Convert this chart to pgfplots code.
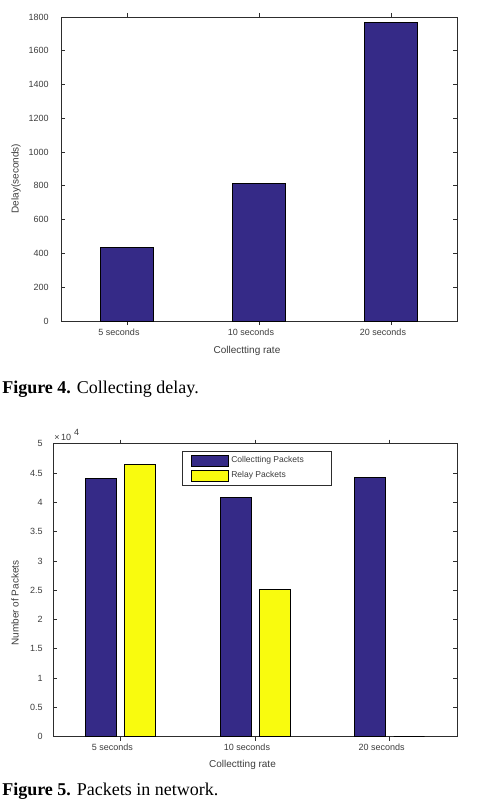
\documentclass[border=0pt]{standalone}
\usepackage{fontspec}
\setmainfont{Liberation Sans}
\newfontfamily\capfont{Liberation Serif}
\usepackage{pgfplots}
\pgfplotsset{compat=1.18}
\newdimen\pxu \pxu=0.75pt
\definecolor{pblue}{RGB}{53,42,135}
\definecolor{pyellow}{RGB}{249,251,14}
\definecolor{axc}{RGB}{45,45,45}
\definecolor{txc}{RGB}{60,60,60}
\pgfplotsset{
 mstyle/.style={
  scale only axis,
  axis line style={axc, line width=1\pxu},
  every tick/.style={axc, line width=0.8\pxu},
  major tick length=4\pxu,
  tick align=inside, xtick pos=both, ytick pos=both,
  xmin=-0.5, xmax=2.5, xtick={0,1,2},
  xticklabels={5 seconds,10 seconds,20 seconds},
  /pgf/number format/assume math mode=true,
  /pgf/number format/1000 sep={},
  ticklabel style={font=\fontsize{6.75pt}{8pt}\selectfont, text=txc},
  xticklabel style={anchor=base, inner sep=0pt, xshift=-8\pxu},
  ybar,
 },
 bleg/.style={legend image code/.code={\draw[##1] (0pt,-5.5\pxu) rectangle (37\pxu,5.5\pxu);}},
}
\begin{document}
\begin{tikzpicture}
\path[use as bounding box] (0,0) rectangle (483\pxu,-799\pxu);
% ---------- Figure 4 ----------
\begin{axis}[mstyle, at={(61\pxu,-321\pxu)}, anchor=south west,
  width=396\pxu, height=304\pxu, ymin=0, ymax=1800,
  ytick={0,200,400,600,800,1000,1200,1400,1600,1800},
  yticklabel style={inner sep=0pt, xshift=-12\pxu},
  xticklabel style={yshift=-10\pxu}]
\addplot[fill=pblue, draw=black, line width=0.8\pxu, bar width=53\pxu, bar shift=0pt]
  coordinates {(0,438) (1,817) (2,1770)};
\end{axis}
\node[font=\fontsize{7.5pt}{9pt}\selectfont, text=txc] at (247\pxu,-350.7\pxu) {Collectting rate};
\node[font=\fontsize{7.5pt}{9pt}\selectfont, text=txc, rotate=90] at (16\pxu,-178.5\pxu) {Delay(seconds)};
\node[anchor=base west, inner sep=0pt, font=\capfont\fontsize{13.5pt}{16pt}\selectfont] at (2\pxu,-393\pxu) {\textbf{Figure 4.} Collecting delay.};
% ---------- Figure 5 ----------
\begin{axis}[mstyle, at={(53\pxu,-736.7\pxu)}, anchor=south west,
  width=404\pxu, height=293\pxu, ymin=0, ymax=5,
  ytick={0,0.5,1,1.5,2,2.5,3,3.5,4,4.5,5},
  yticklabel style={inner sep=0pt, xshift=-10\pxu},
  xticklabel style={yshift=-9.5\pxu},
  legend cell align=left,
  legend style={at={(0.3193,0.976)}, anchor=north west, draw=axc, line width=1\pxu, fill=white,
    font=\fontsize{6.4pt}{7.5pt}\selectfont, text=txc,
    inner xsep=8\pxu, inner ysep=3.5\pxu, row sep=3.3\pxu, column sep=3\pxu,
    nodes={inner sep=0pt}}]
\addplot[fill=pblue, draw=black, line width=0.8\pxu, bar width=31\pxu, bar shift=-19.5\pxu, bleg]
  coordinates {(0,4.40) (1,4.085) (2,4.43)};
\addplot[fill=pyellow, draw=black, line width=0.8\pxu, bar width=31\pxu, bar shift=19.5\pxu, bleg]
  coordinates {(0,4.65) (1,2.515) (2,0)};
\legend{\makebox[92\pxu][l]{Collectting Packets},\makebox[92\pxu][l]{Relay Packets}}
\end{axis}
\node[anchor=base west, inner sep=0pt, font=\fontsize{6.75pt}{8pt}\selectfont, text=txc] at (54\pxu,-440\pxu) {×\,10\,\,\raisebox{5\pxu}{4}};
\node[font=\fontsize{7.5pt}{9pt}\selectfont, text=txc] at (242.5\pxu,-765\pxu) {Collectting rate};
\node[font=\fontsize{7.5pt}{9pt}\selectfont, text=txc, rotate=90] at (15\pxu,-603\pxu) {Number of Packets};
\node[anchor=base west, inner sep=0pt, font=\capfont\fontsize{13.5pt}{16pt}\selectfont] at (2\pxu,-795\pxu) {\textbf{Figure 5.} Packets in network.};
\end{tikzpicture}
\end{document}
